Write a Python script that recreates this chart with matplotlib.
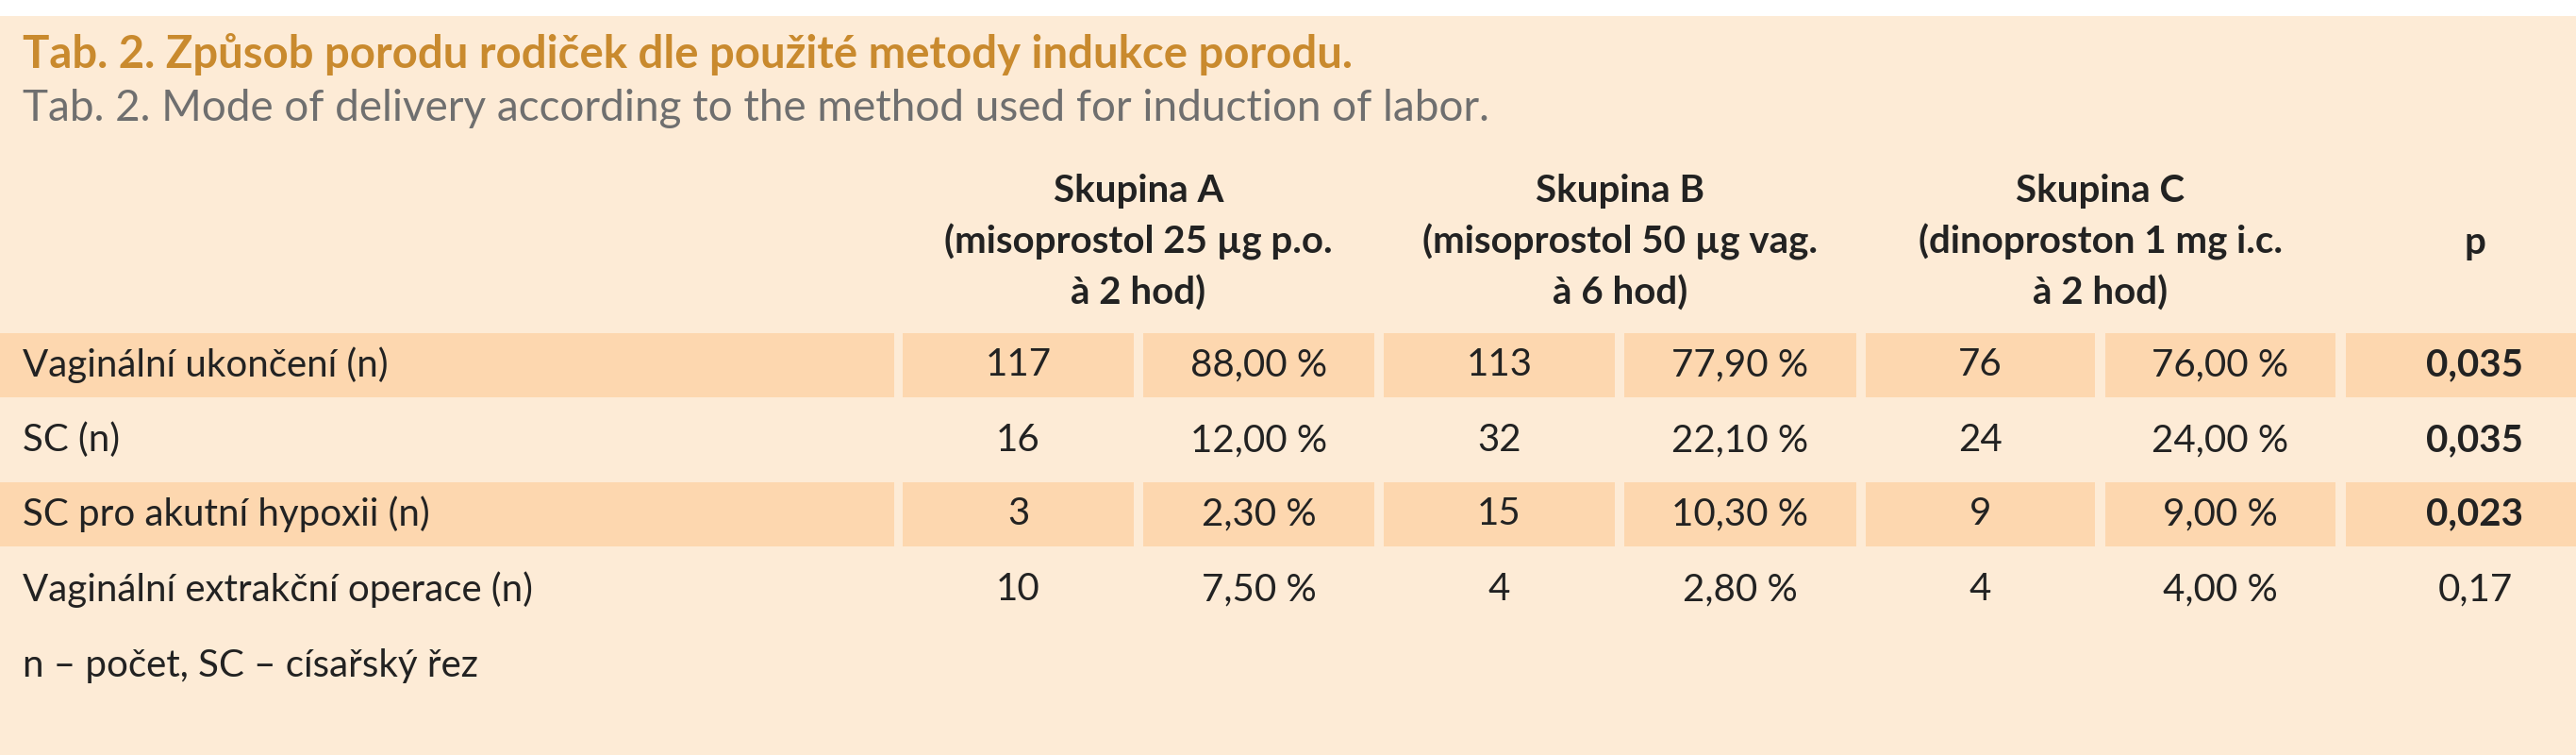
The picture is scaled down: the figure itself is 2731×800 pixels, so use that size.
import matplotlib
matplotlib.use("Agg")
import matplotlib.pyplot as plt
from matplotlib.patches import Rectangle

title_cz = "Tab. 2. Způsob porodu rodiček dle použité metody indukce porodu."
title_en = "Tab. 2. Mode of delivery according to the method used for induction of labor."
headers = ["Skupina A\n(misoprostol 25 µg p.o.\nà 2 hod)",
           "Skupina B\n(misoprostol 50 µg vag.\nà 6 hod)",
           "Skupina C\n(dinoproston 1 mg i.c.\nà 2 hod)",
           "p"]
row_labels = ["Vaginální ukončení (n)", "SC (n)", "SC pro akutní hypoxii (n)",
              "Vaginální extrakční operace (n)"]
counts_A = ["117", "16", "3", "10"]
pct_A = ["88,00 %", "12,00 %", "2,30 %", "7,50 %"]
counts_B = ["113", "32", "15", "4"]
pct_B = ["77,90 %", "22,10 %", "10,30 %", "2,80 %"]
counts_C = ["76", "24", "9", "4"]
pct_C = ["76,00 %", "24,00 %", "9,00 %", "4,00 %"]
p_vals = ["0,035", "0,035", "0,023", "0,17"]
p_bold = [True, True, True, False]
footnote = "n – počet, SC – císařský řez"

BG = "#FDEBD6"
BAND = "#FDD7AF"
FONT = ["Lato", "DejaVu Sans"]
FS = 29

fig = plt.figure(figsize=(27.31, 8), dpi=100)
ax = fig.add_axes([0, 0, 1, 1])
ax.set_xlim(0, 2731)
ax.set_ylim(800, 0)
ax.axis("off")
fig.patch.set_facecolor("white")
ax.add_patch(Rectangle((0, 17), 2731, 783, color=BG, lw=0))

ax.text(24, 58, title_cz, fontsize=34, fontweight="bold", color="#C98A2E",
        va="center", ha="left", family=FONT)
ax.text(24, 115, title_en, fontsize=33, color="#6F6F6F", va="center", ha="left", family=FONT)

cells = [(0, 948), (957, 1202), (1212, 1457), (1467, 1712), (1722, 1968),
         (1978, 2221), (2232, 2476), (2487, 2731)]
row_y = [(353, 421), (433, 500), (511, 579), (591, 658)]

for i, hdr in enumerate(headers):
    if i < 3:
        x = (cells[1 + 2 * i][0] + cells[2 + 2 * i][1]) / 2
    else:
        x = (cells[7][0] + cells[7][1]) / 2 + 15
    ax.text(x, 257, hdr, fontsize=FS, fontweight="bold", color="#222222",
            ha="center", va="center", linespacing=1.5, family=FONT)

cols = [counts_A, pct_A, counts_B, pct_B, counts_C, pct_C]
for r, lab in enumerate(row_labels):
    y0, y1 = row_y[r]
    yc = (y0 + y1) / 2
    if r % 2 == 0:
        for (a, b) in cells:
            ax.add_patch(Rectangle((a, y0), b - a, y1 - y0, color=BAND, lw=0))
    ax.text(24, yc, lab, fontsize=FS, color="#222222", va="center", ha="left", family=FONT)
    for c, col in enumerate(cols):
        a, b = cells[c + 1]
        ax.text((a + b) / 2, yc, col[r], fontsize=FS, color="#222222",
                va="center", ha="center", family=FONT)
    a, b = cells[7]
    ax.text((a + b) / 2 + 15, yc, p_vals[r], fontsize=FS, color="#222222",
            fontweight="bold" if p_bold[r] else "normal", va="center", ha="center", family=FONT)

ax.text(24, 705, footnote, fontsize=FS, color="#222222", va="center", ha="left", family=FONT)

fig.savefig("out.png", dpi=100, facecolor=fig.get_facecolor())
